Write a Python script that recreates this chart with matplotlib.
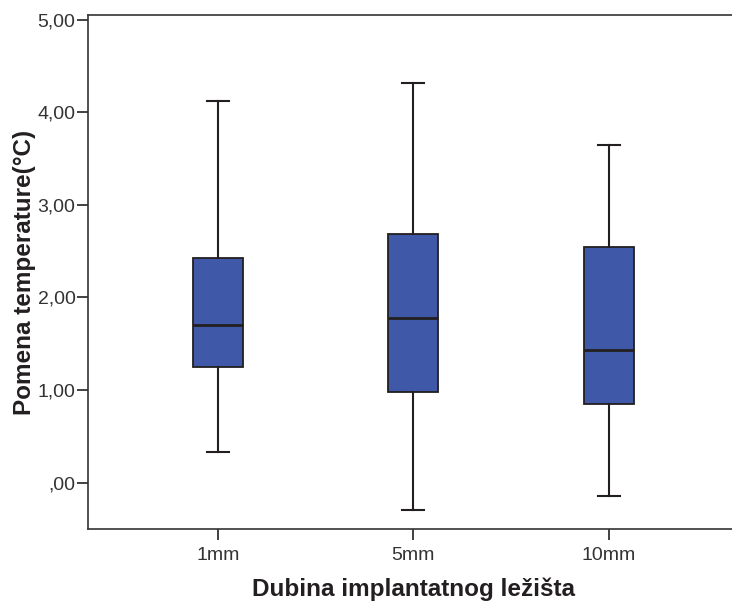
import matplotlib.pyplot as plt

plt.rcParams['font.family'] = ['Liberation Sans', 'DejaVu Sans']

# Box plot summary
groups = ['1mm', '5mm', '10mm']
whisker_low = [0.33, -0.30, -0.15]
q1 = [1.25, 0.98, 0.85]
medians = [1.70, 1.78, 1.43]
q3 = [2.43, 2.69, 2.54]
whisker_high = [4.12, 4.32, 3.65]
y_ticks = [0, 1, 2, 3, 4, 5]
y_tick_labels = [',00', '1,00', '2,00', '3,00', '4,00', '5,00']

stats = []
for i, name in enumerate(groups):
    stats.append({
        'label': name,
        'whislo': whisker_low[i],
        'q1': q1[i],
        'med': medians[i],
        'q3': q3[i],
        'whishi': whisker_high[i],
        'fliers': [],
    })

fig = plt.figure(figsize=(7.32, 6.01), dpi=100)
ax = fig.add_axes([0.1202, 0.12, 0.889, 0.855])

line_color = '#231f20'
ax.bxp(stats, positions=[1, 2, 3], widths=0.256, patch_artist=True,
       showfliers=False,
       boxprops=dict(facecolor='#3f58a8', edgecolor=line_color, linewidth=1.3),
       medianprops=dict(color=line_color, linewidth=2),
       whiskerprops=dict(color=line_color, linewidth=1.5),
       capprops=dict(color=line_color, linewidth=1.5),
       capwidths=0.113)

ax.set_xlim(0.333, 3.667)
ax.set_ylim(-0.5, 5.05)
ax.set_yticks(y_ticks)
ax.set_yticklabels(y_tick_labels)
ax.set_xticks([1, 2, 3])
ax.set_xticklabels(groups)

for side in ['left', 'bottom', 'top']:
    ax.spines[side].set_color('#333333')
    ax.spines[side].set_linewidth(1.2)
ax.spines['right'].set_visible(False)

ax.tick_params(axis='both', direction='out', length=8, width=1.3,
               color='#333333', labelsize=14, labelcolor='#333333')
ax.tick_params(axis='y', pad=1)
ax.tick_params(axis='x', pad=5)

ax.set_xlabel('Dubina implantatnog ležišta', fontsize=17.5, fontweight='bold',
              color='#231f20', va='center')
ax.set_ylabel('Pomena temperature(°C)', fontsize=17.5, fontweight='bold',
              color='#231f20', va='center')
ax.xaxis.set_label_coords(0.5, -0.118)
ax.yaxis.set_label_coords(-0.097, 0.5)

fig.savefig('out.png', dpi=100)
